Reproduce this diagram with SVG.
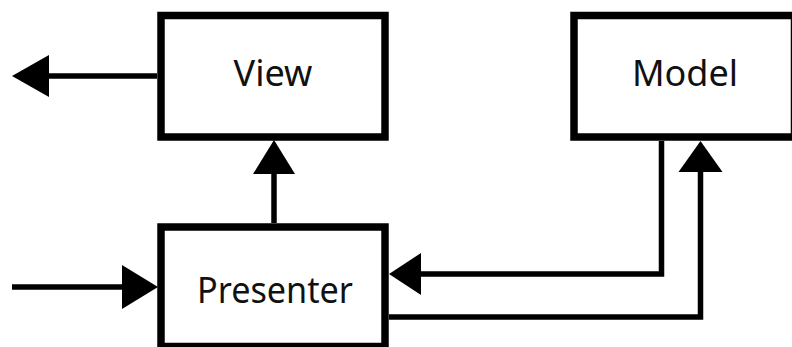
<svg xmlns="http://www.w3.org/2000/svg" width="792" height="347" viewBox="0 0 792 347">
  <style>
    .box { fill: #ffffff; stroke: #000000; stroke-width: 7.5; }
    .label { font-family: "Noto Sans", "Open Sans", sans-serif; font-size: 36px; fill: #111111; text-anchor: middle; }
    .wire { fill: none; stroke: #000000; stroke-width: 5.5; stroke-linejoin: miter; stroke-linecap: butt; }
    .head { fill: #000000; stroke: none; }
  </style>
  <rect width="792" height="347" fill="#ffffff"/>

  <g id="view">
    <rect class="box" x="161" y="15.5" width="224" height="121.5"/>
    <text class="label" x="273" y="86">View</text>
  </g>

  <g id="model">
    <rect class="box" x="574" y="15.5" width="220.5" height="121.5"/>
    <text class="label" x="685" y="86">Model</text>
  </g>

  <g id="presenter">
    <rect class="box" x="161" y="227" width="224" height="119.5"/>
    <text class="label" x="275" y="303" textLength="156" lengthAdjust="spacingAndGlyphs">Presenter</text>
  </g>

  <g id="connectors">
    <!-- View output to the left -->
    <line class="wire" x1="157" y1="76" x2="45" y2="76" stroke-width="6"/>
    <polygon class="head" points="12,76 49,55 49,97"/>

    <!-- Presenter updates View -->
    <line class="wire" x1="274" y1="223" x2="274" y2="170" stroke-width="6"/>
    <polygon class="head" points="274,140 253,174 295,174"/>

    <!-- Input into Presenter -->
    <line class="wire" x1="12" y1="287" x2="126" y2="287" stroke-width="6"/>
    <polygon class="head" points="158,287 122,265 122,309"/>

    <!-- Model notifies Presenter -->
    <polyline class="wire" points="661.5,141 661.5,274 417,274"/>
    <polygon class="head" points="389,274 421,253 421,295"/>

    <!-- Presenter updates Model -->
    <polyline class="wire" points="389,317 700.5,317 700.5,168"/>
    <polygon class="head" points="700.5,141 678.5,172 722.5,172"/>
  </g>
</svg>
